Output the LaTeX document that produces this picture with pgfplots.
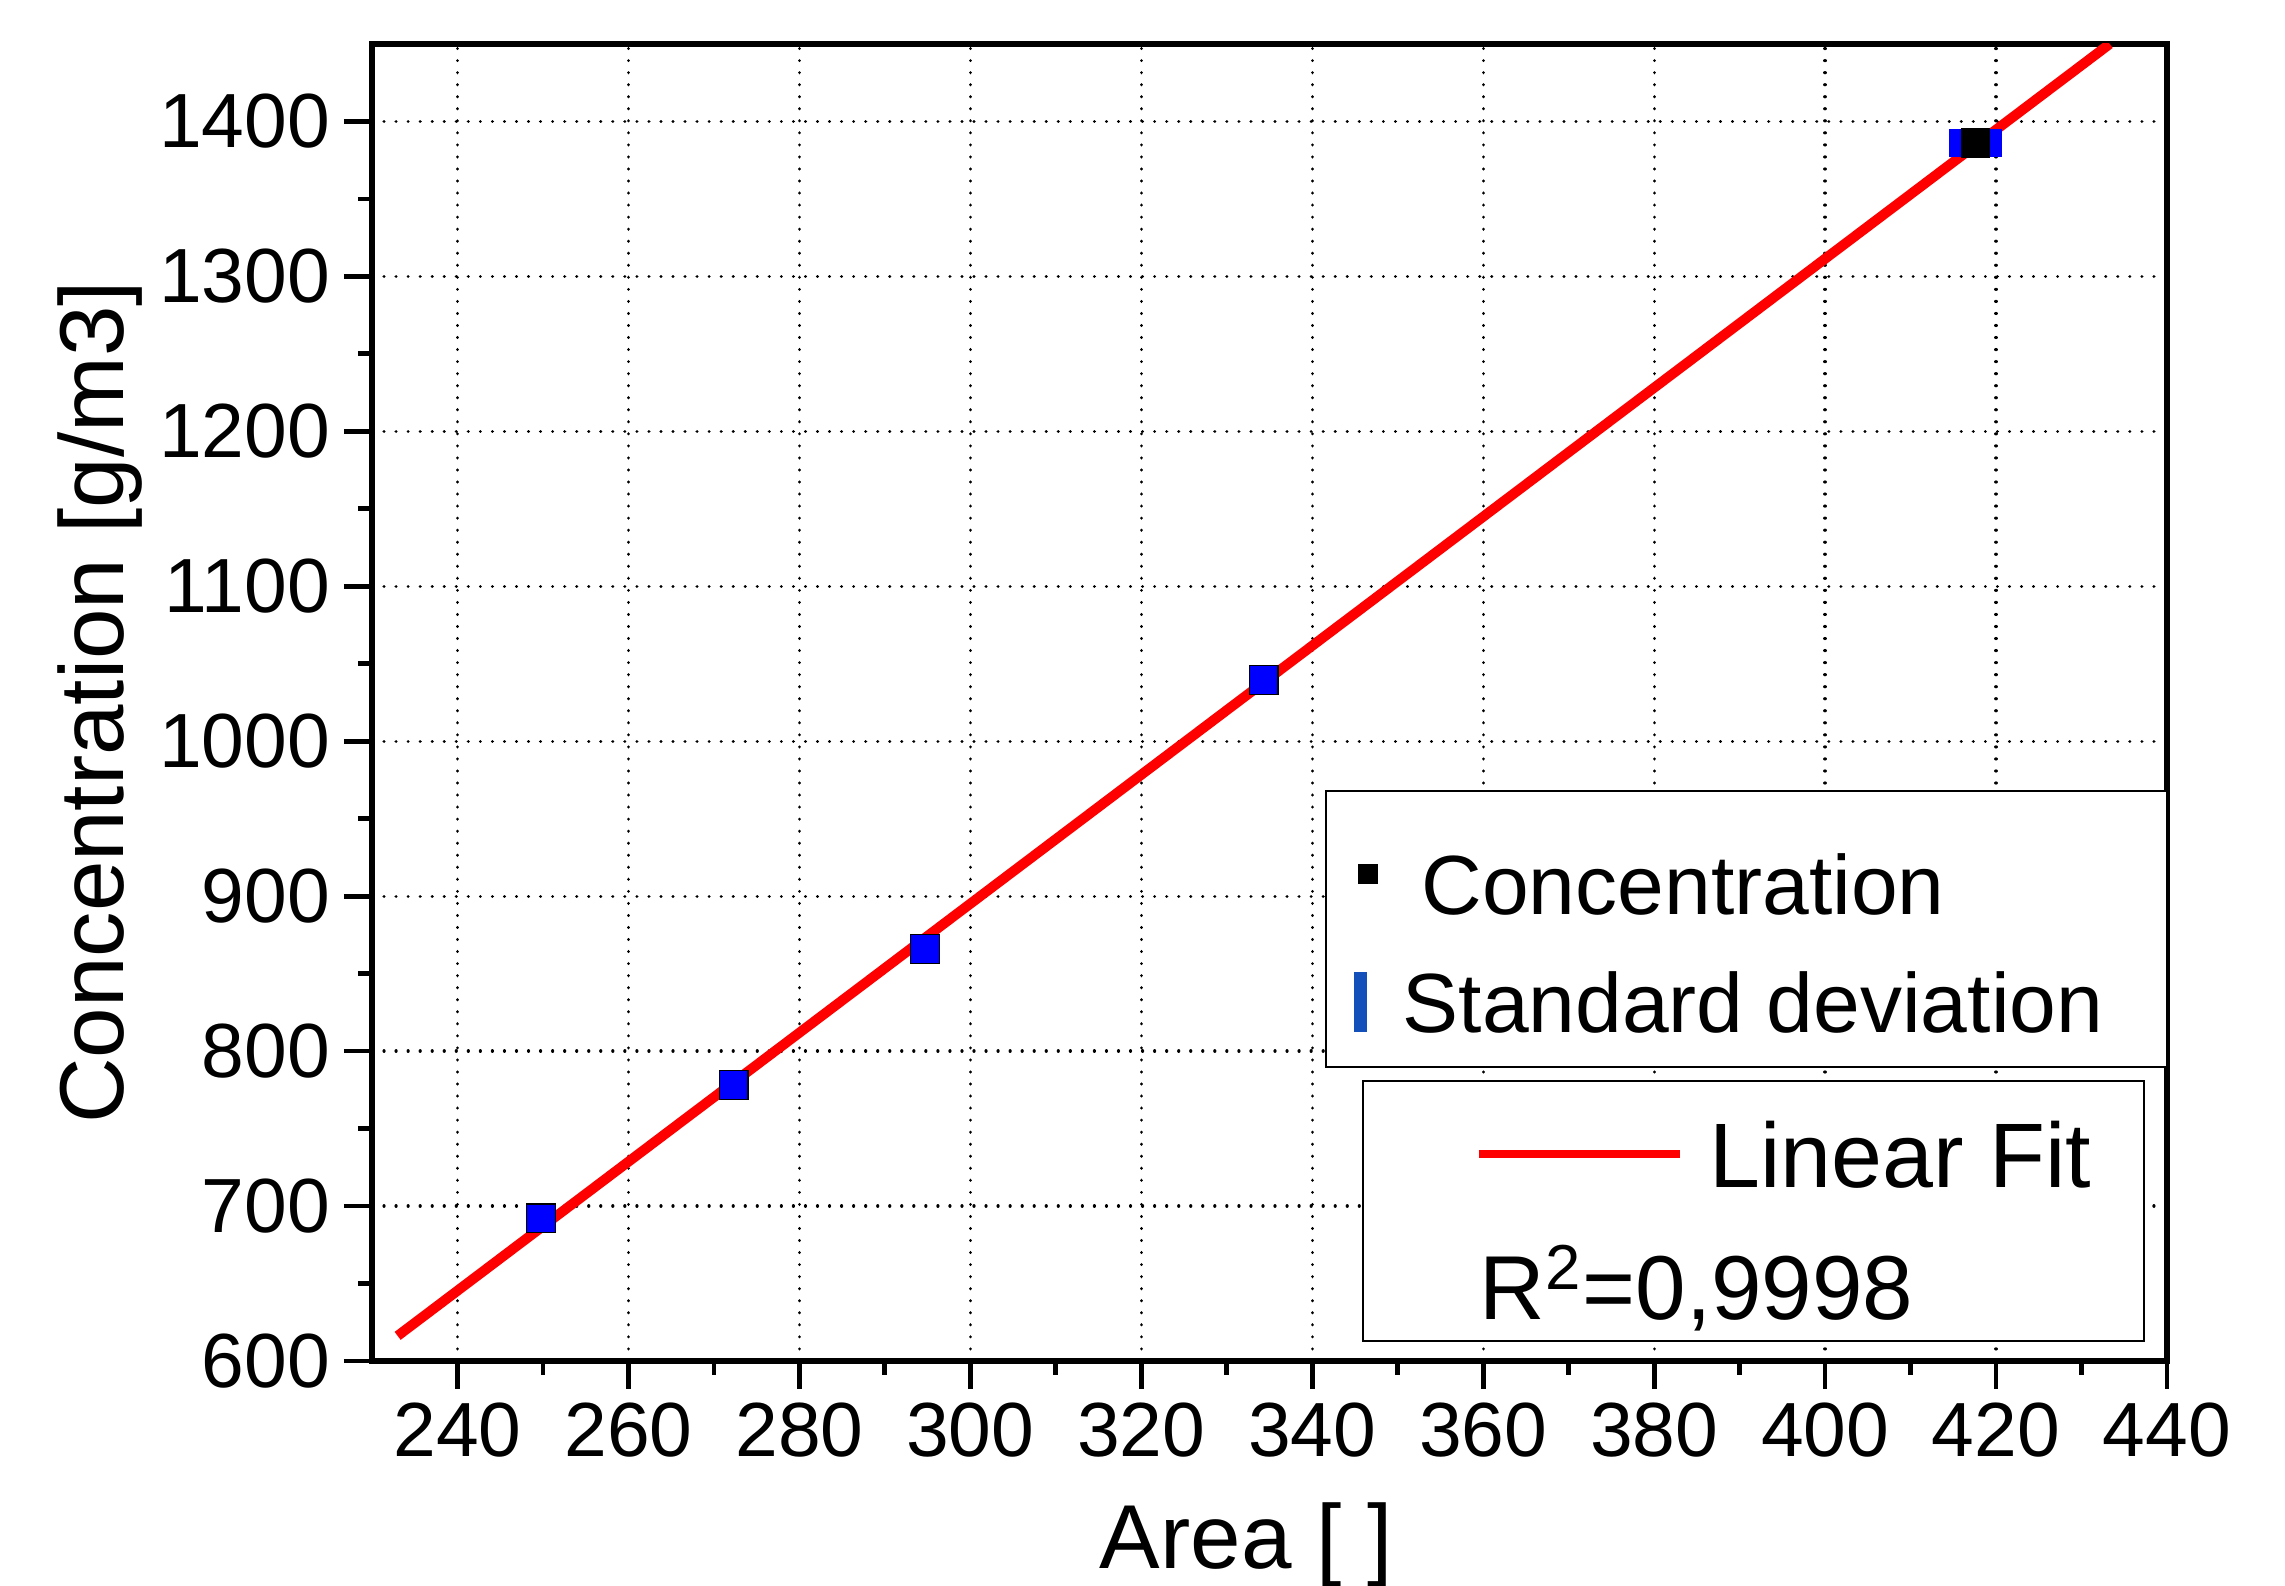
\documentclass[border=0pt]{standalone}
\usepackage{fontspec}
\setmainfont{Liberation Sans}
\usepackage{pgfplots}
\pgfplotsset{compat=1.18}
\definecolor{sdblue}{RGB}{20,80,185}
\begin{document}
\begin{tikzpicture}
\begin{axis}[
  scale only axis, width=448.75pt, height=329.25pt,
  xmin=230, xmax=440, ymin=600, ymax=1450,
  xtick={240,260,...,440}, ytick={600,700,...,1400},
  minor x tick num=1, minor y tick num=1,
  axis line style={line width=1.3pt},
  every tick/.style={black, line width=1.2pt},
  tick align=outside, tick pos=left,
  major tick length=7pt, minor tick length=3.5pt,
  grid=major,
  major grid style={black, line width=0.8pt, dash pattern=on 0.01pt off 3pt, line cap=round},
  tick label style={font=\fontsize{19.2}{21}\selectfont},
  /pgf/number format/assume math mode=true,
  /pgf/number format/1000 sep={},
  label style={font=\fontsize{22.7}{25}\selectfont},
  xlabel={Area [ ]}, ylabel={Concentration [g/m3]},
  xlabel style={at={(axis description cs:0.487,-0.1397)}, anchor=center},
  ylabel style={at={(axis description cs:-0.1515,0.5)}, anchor=center},
]
% linear fit
\addplot[red, line width=2.5pt] coordinates {(233,616.2) (433.3,1450)};
% data points (standard deviation markers)
\addplot[only marks, mark=square*, mark size=3.6pt,
  mark options={fill=blue, draw=black, line width=0.3pt}]
  coordinates {(249.8,692) (272.3,778) (294.7,865.7) (334.3,1039.5)};
\addplot[only marks, mark=square*, mark size=3.5pt,
  mark options={fill=blue, draw=blue, xscale=1.85, yscale=0.95}]
  coordinates {(417.6,1386)};
\addplot[only marks, mark=square*, mark size=3.5pt,
  mark options={fill=black, draw=black}]
  coordinates {(417.6,1386)};
% legend box 1
\draw[line width=0.5pt, fill=white] (axis cs:341.6,967.9) rectangle (axis cs:440,789.8);
\fill[black] (axis cs:346.5,914.3) ++(-2.5pt,-2.5pt) rectangle ++(5pt,5pt);
\node[anchor=base west, inner sep=0pt, font=\fontsize{21}{23}\selectfont] at (axis cs:352.7,887.9) {Concentration};
\fill[sdblue] (axis cs:345.6,812.3) ++(-1.6pt,0pt) rectangle ++(3.2pt,15pt);
\node[anchor=base west, inner sep=0pt, font=\fontsize{21}{23}\selectfont] at (axis cs:350.5,812.3) {Standard deviation};
% legend box 2
\draw[line width=0.5pt, fill=white] (axis cs:345.9,780.7) rectangle (axis cs:437.3,612.9);
\draw[red, line width=2.2pt] (axis cs:359.5,733.6) -- (axis cs:383,733.6);
\node[anchor=base west, inner sep=0pt, font=\fontsize{22.9}{25}\selectfont] at (axis cs:386.4,711.7) {Linear Fit};
\node[anchor=base west, inner sep=0pt, font=\fontsize{22.7}{25}\selectfont] at (axis cs:359.5,627) {R\textsuperscript{2}=0,9998};
\end{axis}
\pgfresetboundingbox
\path ([shift={(-93pt,-56.25pt)}]current axis.south west) rectangle ([shift={(29.5pt,11pt)}]current axis.north east);
\end{tikzpicture}
\end{document}
